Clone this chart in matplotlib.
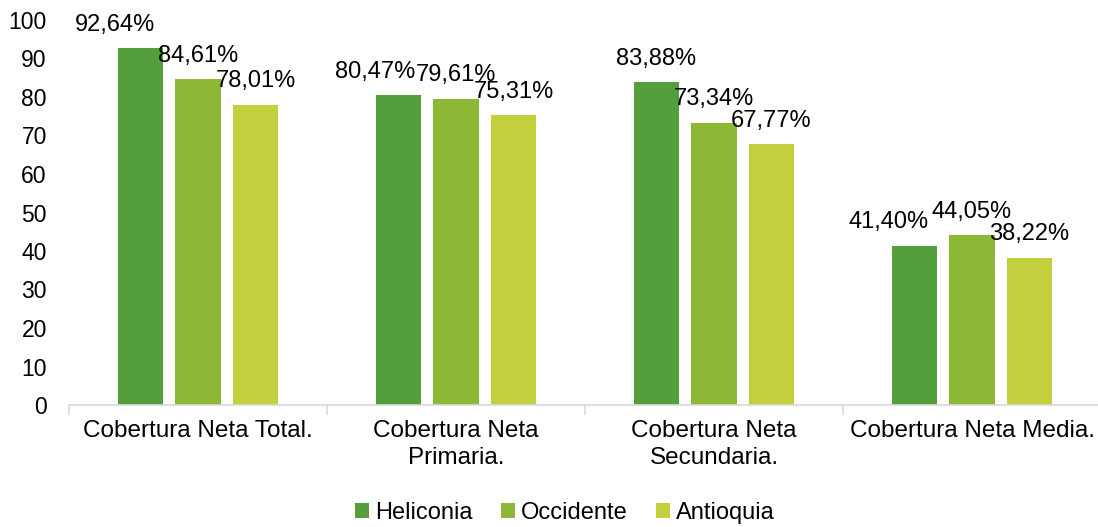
import matplotlib
matplotlib.use("Agg")
import matplotlib.pyplot as plt
import numpy as np

plt.rcParams['font.family'] = ['Liberation Sans', 'DejaVu Sans']

categories = ['Cobertura Neta Total.', 'Cobertura Neta\nPrimaria.',
              'Cobertura Neta\nSecundaria.', 'Cobertura Neta Media.']
series = ['Heliconia', 'Occidente', 'Antioquia']
heliconia = [92.64, 80.47, 83.88, 41.40]
occidente = [84.61, 79.61, 73.34, 44.05]
antioquia = [78.01, 75.31, 67.77, 38.22]
colors = ['#549E3B', '#8DB836', '#C3CF3C']

# horizontal nudges (points) for a few labels that sit left of their bar
label_dx = {(0, 0): -18, (0, 1): -17, (0, 3): -19}

fig = plt.figure(figsize=(10.98, 5.27), dpi=100)
ax = fig.add_axes([69 / 1098, 122 / 527, 1032 / 1098, 385 / 527])

x = np.arange(len(categories))
step = 0.223
width = 0.175
for i, (name, vals) in enumerate(zip(series, [heliconia, occidente, antioquia])):
    bars = ax.bar(x + (i - 1) * step, vals, width, color=colors[i], label=name)
    for j, b in enumerate(bars):
        v = vals[j]
        txt = f"{v:.2f}%".replace('.', ',')
        ax.annotate(txt, (b.get_x() + b.get_width() / 2, v),
                    xytext=(label_dx.get((i, j), 0), 9), textcoords='offset points',
                    ha='center', va='bottom', fontsize=17, color='#000000')

ax.set_xlim(-0.5, 3.5)
ax.set_ylim(0, 100)
ax.set_yticks(np.arange(0, 101, 10))
ax.set_xticks(x)
ax.set_xticklabels(categories, fontsize=17.5, linespacing=1.25)
ax.set_xticks(np.arange(-0.5, 4.0, 1), minor=True)
ax.tick_params(axis='x', which='major', length=0, pad=11)
ax.tick_params(axis='x', which='minor', length=7, color='#d9d9d9', width=1.2)
ax.tick_params(axis='y', length=0, pad=16, labelsize=16.5)

for s in ['top', 'right', 'left']:
    ax.spines[s].set_visible(False)
ax.spines['bottom'].set_color('#d9d9d9')
ax.spines['bottom'].set_linewidth(1.2)

fig.legend(loc='center', bbox_to_anchor=(565 / 1098, 14 / 527), ncol=3, frameon=False,
           fontsize=17, handlelength=0.6, handleheight=0.6, handletextpad=0.25,
           columnspacing=1.2)

fig.savefig('out.png', dpi=100)
